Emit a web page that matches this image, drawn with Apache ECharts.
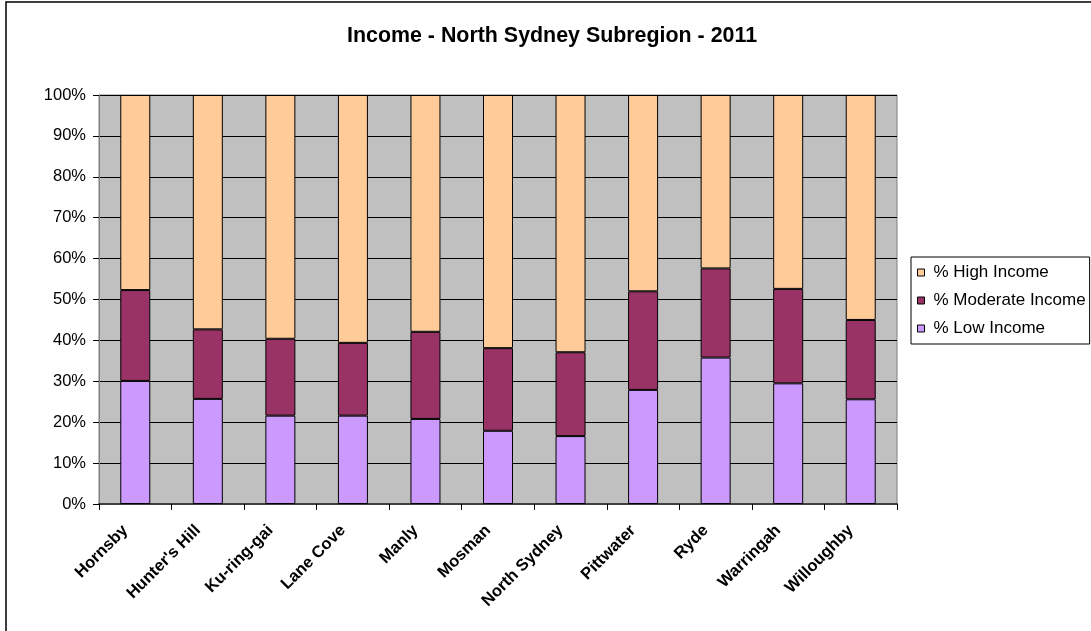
<!DOCTYPE html>
<html>
<head>
<meta charset="utf-8">
<script src="https://cdn.jsdelivr.net/npm/echarts@6/dist/echarts.min.js"></script>
<style>
html,body{margin:0;padding:0;background:#fff;}
#chart{width:1091px;height:631px;}
</style>
</head>
<body>
<div id="chart"></div>
<script>
const categories = ["Hornsby","Hunter's Hill","Ku-ring-gai","Lane Cove","Manly","Mosman","North Sydney","Pittwater","Ryde","Warringah","Willoughby"];
const lowIncome = [30.1, 25.7, 21.6, 21.6, 20.8, 17.9, 16.6, 27.9, 35.8, 29.5, 25.6];
const moderateIncome = [22.2, 17.0, 18.8, 17.8, 21.3, 20.2, 20.5, 24.1, 21.8, 23.1, 19.4];
const highIncome = [47.7, 57.3, 59.6, 60.6, 57.9, 61.9, 62.9, 48.0, 42.4, 47.4, 55.0];
const seriesNames = ["% Low Income", "% Moderate Income", "% High Income"];
const seriesColors = ["#CC99FF", "#993366", "#FFCC99"];
const titleText = "Income - North Sydney Subregion - 2011";

const chart = echarts.init(document.getElementById('chart'));
const font = 'Arial, "Liberation Sans", sans-serif';
function bar(i, data) {
  return {
    name: seriesNames[i], type: 'bar', stack: 'total', barWidth: 30, data: data,
    itemStyle: { color: seriesColors[i], borderColor: '#000', borderWidth: 1 },
    emphasis: { disabled: true }
  };
}
chart.setOption({
  animation: false,
  backgroundColor: '#fff',
  graphic: [{
    type: 'rect', shape: { x: 6, y: 2, width: 1200, height: 800 },
    style: { fill: 'none', stroke: '#000', lineWidth: 1.5 }, z: 100
  }],
  title: {
    text: titleText, left: 342, top: 21,
    textStyle: { fontFamily: font, fontWeight: 'bold', fontSize: 21.4, color: '#000' }
  },
  legend: {
    orient: 'vertical', left: 911, top: 257,
    data: [seriesNames[2], seriesNames[1], seriesNames[0]],
    itemWidth: 7, itemHeight: 7, itemGap: 11,
    padding: [7, 4, 7, 6],
    borderColor: '#000', borderWidth: 1,
    icon: 'rect',
    itemStyle: { borderColor: '#000', borderWidth: 1 },
    textStyle: { fontFamily: font, fontSize: 17, lineHeight: 17, color: '#000', padding: [0, 0, 0, 4] }
  },
  grid: { left: 99, right: 194, top: 95, bottom: 127, show: true, backgroundColor: '#C0C0C0', borderColor: '#808080', borderWidth: 1 },
  xAxis: {
    type: 'category', data: categories,
    axisLine: { lineStyle: { color: '#404040', width: 2 } },
    axisTick: { show: true, length: 6, lineStyle: { color: '#000' } },
    axisLabel: { rotate: 45, margin: 14, interval: 0, padding: [0, 14, 0, 0], fontFamily: font, fontWeight: 'bold', fontSize: 16.5, color: '#000' }
  },
  yAxis: {
    type: 'value', min: 0, max: 100, interval: 10,
    axisLine: { show: true, lineStyle: { color: '#808080', width: 1 } },
    axisTick: { show: true, length: 6, lineStyle: { color: '#000' } },
    axisLabel: { margin: 13, formatter: '{value}%', fontFamily: font, fontSize: 16.5, color: '#000' },
    splitLine: { lineStyle: { color: '#000', width: 1 } }
  },
  series: [ bar(0, lowIncome), bar(1, moderateIncome), bar(2, highIncome) ]
});
</script>
</body>
</html>
